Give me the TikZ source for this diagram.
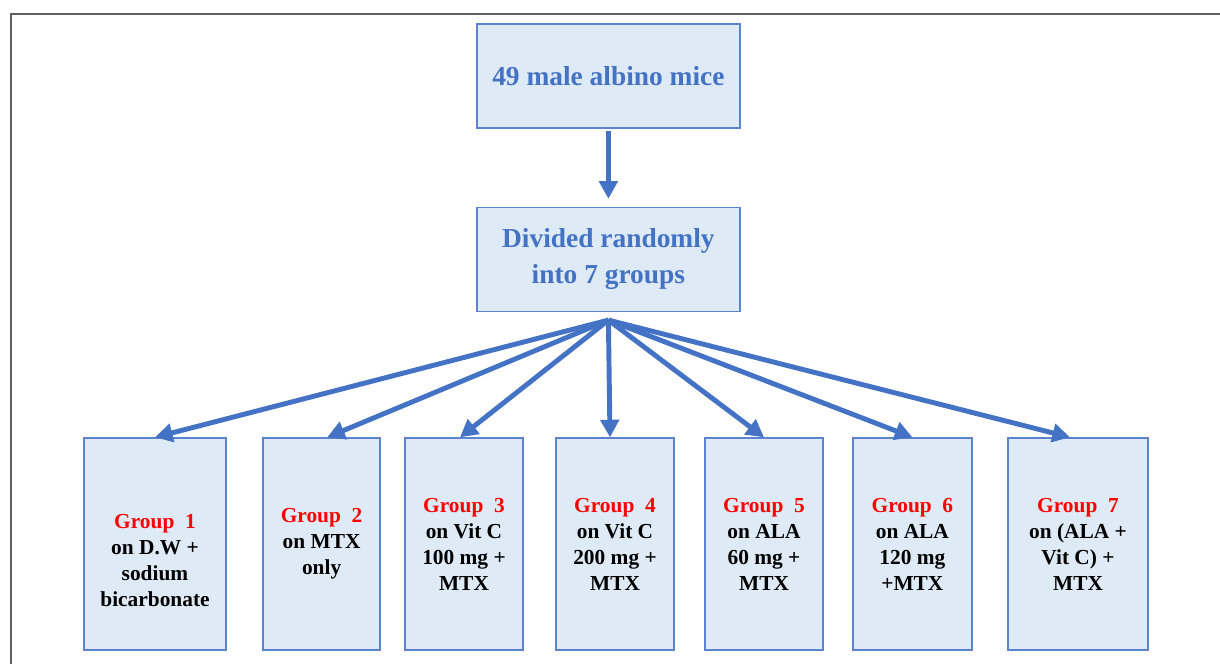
\documentclass[tikz,border=0pt]{standalone}
\usepackage{fontspec}
\setmainfont{Liberation Serif}
\usetikzlibrary{arrows.meta, positioning}
\definecolor{boxfill}{HTML}{DEEBF7}
\definecolor{boxline}{HTML}{5B83CF}
\definecolor{flowblue}{HTML}{4472C4}
\definecolor{grpred}{HTML}{FF0000}
\definecolor{framegray}{HTML}{5F5F5F}
\tikzset{
  % boxes of the main flow
  stepbox/.style={draw=boxline, fill=boxfill, line width=1pt, align=center, inner sep=2pt,
    minimum width=6.575cm, minimum height=2.6cm, text=flowblue,
    font=\fontsize{19.5}{25.6}\selectfont\bfseries},
  % one box per group
  grpbox/.style={draw=boxline, fill=boxfill, line width=1pt, align=center, inner sep=1pt,
    minimum height=5.3cm, font=\fontsize{15.2}{18.5}\selectfont\bfseries},
  % arrows
  flow/.style={-{Triangle[length=12.5pt, width=13pt]}, line width=3.5pt, flowblue},
  % frame round the figure
  outline/.style={draw=framegray, line width=1.4pt},
}
\newcommand{\grouphead}[1]{\textcolor{grpred}{Group\ \ #1}}

\begin{document}
\begin{tikzpicture}
  \useasboundingbox (0,0) rectangle (30.5,-16.6);
  \draw[outline] (0.275,-16.6) |- (30.5,-0.35);
  \node[stepbox] (mice) at (15.21,-1.9) {49 male albino mice};
  \node[stepbox, below=1.95cm of mice] (split) {Divided randomly\\into 7 groups};
  \coordinate (fan) at ([yshift=-0.2cm]split.south);
  \node[grpbox, minimum width=3.55cm] (g1) at (3.875,-13.6) {\rule{0pt}{1.16cm}\grouphead{1}\\on D.W +\\sodium\\bicarbonate};
  \node[grpbox, minimum width=2.925cm] (g2) at (8.04,-13.6) {\grouphead{2}\\on MTX\\only};
  \node[grpbox, minimum width=2.95cm] (g3) at (11.6,-13.6) {\grouphead{3}\\on Vit C\\100 mg +\\MTX};
  \node[grpbox, minimum width=2.95cm] (g4) at (15.375,-13.6) {\grouphead{4}\\on Vit C\\200 mg +\\MTX};
  \node[grpbox, minimum width=2.95cm] (g5) at (19.1,-13.6) {\grouphead{5}\\on ALA\\60 mg +\\MTX};
  \node[grpbox, minimum width=2.975cm] (g6) at (22.81,-13.6) {\grouphead{6}\\on ALA\\120 mg\\+MTX};
  \node[grpbox, minimum width=3.5cm] (g7) at (26.95,-13.6) {\grouphead{7}\\on (ALA +\\Vit C) +\\MTX};
  \draw[flow] ([yshift=-0.05cm]mice.south) -- ([yshift=0.2cm]split.north);
  \foreach \i/\dx in {1/0, 2/0.14, 3/-0.1, 4/-0.125, 5/0, 6/0, 7/-0.2}
    \draw[flow] (fan) -- ([xshift=\dx cm]g\i.north);
\end{tikzpicture}
\end{document}
